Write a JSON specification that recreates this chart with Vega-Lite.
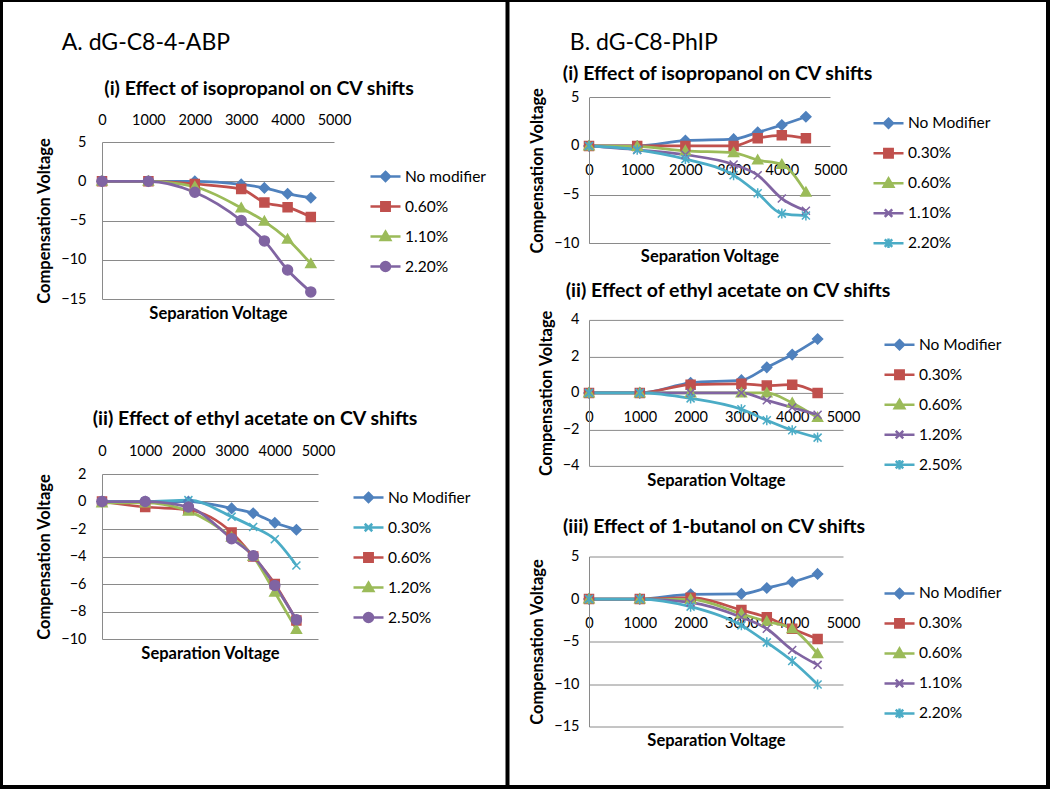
{
  "$schema": "https://vega.github.io/schema/vega-lite/v6.json",
  "background": "white",
  "padding": 0,
  "config": {
    "font": "Lato",
    "view": {"stroke": null},
    "axis": {"labelFont": "Lato", "labelFontSize": 14.5, "labelColor": "#000", "titleFont": "Lato", "titleFontSize": 16.5, "titleFontWeight": "bold", "titleColor": "#000", "gridColor": "#8a8a8a", "domainColor": "#8a8a8a", "ticks": false, "labelFlush": false, "labelOverlap": false, "format": "d"},
    "title": {"font": "Lato", "fontSize": 19.5, "fontWeight": "bold", "color": "#000", "anchor": "middle"},
    "legend": {"labelFont": "Lato", "labelFontSize": 15.5, "labelColor": "#000"}
  },
  "resolve": {"scale": {"x": "independent", "y": "independent", "color": "independent", "stroke": "independent", "shape": "independent"}},
  "spacing": 0,
  "vconcat": [
    {"width": 1050, "height": 2, "view": {"fill": "black", "stroke": null}, "data": {"values": []}, "mark": {"type": "point", "opacity": 0}, "encoding": {}},
    {
      "resolve": {"scale": {"x": "independent", "y": "independent", "color": "independent", "stroke": "independent", "shape": "independent"}},
      "spacing": 44,
      "hconcat": [
        {
          "resolve": {"scale": {"x": "independent", "y": "independent", "color": "independent", "stroke": "independent", "shape": "independent"}},
          "spacing": 33,
          "hconcat": [
            {"width": 3, "height": 783, "view": {"fill": "black", "stroke": null}, "data": {"values": []}, "mark": {"type": "point", "opacity": 0}, "encoding": {}},
            {
              "resolve": {"scale": {"x": "independent", "y": "independent", "color": "independent", "stroke": "independent", "shape": "independent"}},
              "spacing": 19.5,
              "hconcat": [
                {
                  "title": {"text": "A. dG-C8-4-ABP", "anchor": "start", "fontSize": 23, "fontWeight": "normal", "dx": 25, "offset": -53.2},
                  "resolve": {"scale": {"x": "independent", "y": "independent", "color": "independent", "stroke": "independent", "shape": "independent"}},
                  "spacing": 87,
                  "vconcat": [
                    {
                      "width": 232, "height": 297,
                      "title": {"text": "(i) Effect of isopropanol on CV shifts", "dx": 41, "offset": -97.45},
                      "data": {"values": [
                        {"series": "No modifier", "sv": 0, "cv": 0}, {"series": "No modifier", "sv": 1000, "cv": 0}, {"series": "No modifier", "sv": 2000, "cv": 0}, {"series": "No modifier", "sv": 3000, "cv": -0.4}, {"series": "No modifier", "sv": 3500, "cv": -0.85}, {"series": "No modifier", "sv": 4000, "cv": -1.6}, {"series": "No modifier", "sv": 4500, "cv": -2.1},
                        {"series": "0.60%", "sv": 0, "cv": 0}, {"series": "0.60%", "sv": 1000, "cv": 0}, {"series": "0.60%", "sv": 2000, "cv": -0.35}, {"series": "0.60%", "sv": 3000, "cv": -1.0}, {"series": "0.60%", "sv": 3500, "cv": -2.7}, {"series": "0.60%", "sv": 4000, "cv": -3.3}, {"series": "0.60%", "sv": 4500, "cv": -4.55},
                        {"series": "1.10%", "sv": 0, "cv": 0}, {"series": "1.10%", "sv": 1000, "cv": 0}, {"series": "1.10%", "sv": 2000, "cv": -0.7}, {"series": "1.10%", "sv": 3000, "cv": -3.4}, {"series": "1.10%", "sv": 3500, "cv": -5.1}, {"series": "1.10%", "sv": 4000, "cv": -7.4}, {"series": "1.10%", "sv": 4500, "cv": -10.5},
                        {"series": "2.20%", "sv": 0, "cv": 0}, {"series": "2.20%", "sv": 1000, "cv": 0}, {"series": "2.20%", "sv": 2000, "cv": -1.4}, {"series": "2.20%", "sv": 3000, "cv": -5.0}, {"series": "2.20%", "sv": 3500, "cv": -7.6}, {"series": "2.20%", "sv": 4000, "cv": -11.3}, {"series": "2.20%", "sv": 4500, "cv": -14.1}
                      ]},
                      "resolve": {"scale": {"color": "independent", "stroke": "independent", "shape": "independent"}},
                      "encoding": {
                        "x": {"field": "sv", "type": "quantitative", "scale": {"domain": [0, 5000], "nice": false}, "axis": {"orient": "top", "offset": -140, "values": [0, 1000, 2000, 3000, 4000, 5000], "grid": false, "domain": false, "labelPadding": 15, "title": "Separation Voltage", "titleY": 171, "titleBaseline": "middle"}},
                        "y": {"field": "cv", "type": "quantitative", "scale": {"domain": [-15, 5], "nice": false, "range": [297, 140]}, "axis": {"values": [-15, -10, -5, 0, 5], "grid": true, "labelPadding": 16, "title": "Compensation Voltage", "titlePadding": 8}}
                      },
                      "layer": [
                        {"mark": {"type": "line", "interpolate": "monotone", "strokeWidth": 2.75}, "encoding": {"color": {"field": "series", "type": "nominal", "scale": {"domain": ["No modifier", "0.60%", "1.10%", "2.20%"], "range": ["#4F81BD", "#C0504D", "#9BBB59", "#8064A2"]}, "legend": null}}},
                        {"mark": {"type": "point", "filled": true, "opacity": 1, "size": 100, "strokeWidth": 1.5}, "encoding": {
                          "color": {"field": "series", "type": "nominal", "scale": {"domain": ["No modifier", "0.60%", "1.10%", "2.20%"], "range": ["#4F81BD", "#C0504D", "#9BBB59", "#8064A2"]}, "legend": null},
                          "stroke": {"field": "series", "type": "nominal", "scale": {"domain": ["No modifier", "0.60%", "1.10%", "2.20%"], "range": ["#4F81BD", "#C0504D", "#9BBB59", "#8064A2"]}, "legend": null},
                          "shape": {"field": "series", "type": "nominal", "scale": {"domain": ["No modifier", "0.60%", "1.10%", "2.20%"], "range": ["M0,-1L1,0L0,1L-1,0Z", "M-0.9,-0.9H0.9V0.9H-0.9Z", "M0,-1L1,0.75H-1Z", "circle"]}, "legend": null}}},
                        {"transform": [{"filter": "datum.sv < 0"}], "mark": {"type": "point", "filled": true, "opacity": 1, "strokeWidth": 2.5}, "encoding": {
                          "color": {"field": "series", "type": "nominal", "scale": {"domain": ["No modifier", "0.60%", "1.10%", "2.20%"], "range": ["#4F81BD", "#C0504D", "#9BBB59", "#8064A2"]}, "legend": {"title": null, "orient": "none", "legendX": 267, "legendY": 158, "symbolSize": 900, "symbolStrokeWidth": 2.5, "labelOffset": 3, "rowPadding": 4, "padding": 0}},
                          "stroke": {"field": "series", "type": "nominal", "scale": {"domain": ["No modifier", "0.60%", "1.10%", "2.20%"], "range": ["#4F81BD", "#C0504D", "#9BBB59", "#8064A2"]}, "legend": {"title": null, "orient": "none", "legendX": 267, "legendY": 158, "symbolSize": 900, "symbolStrokeWidth": 2.5, "labelOffset": 3, "rowPadding": 4, "padding": 0}},
                          "shape": {"field": "series", "type": "nominal", "scale": {"domain": ["No modifier", "0.60%", "1.10%", "2.20%"], "range": ["M-1,0H1M0,-0.3L0.3,0L0,0.3L-0.3,0Z", "M-1,0H1M-0.28,-0.28H0.28V0.28H-0.28Z", "M-1,0H1M0,-0.32L0.32,0.24H-0.32Z", "M-1,0H1M0.3,0A0.3,0.3,0,1,1,-0.3,0A0.3,0.3,0,1,1,0.3,0Z"]}, "legend": {"title": null, "orient": "none", "legendX": 267, "legendY": 158, "symbolSize": 900, "symbolStrokeWidth": 2.5, "labelOffset": 3, "rowPadding": 4, "padding": 0}}}}
                      ]
                    },
                    {
                      "width": 216, "height": 165,
                      "title": {"text": "(ii) Effect of ethyl acetate  on CV shifts", "dx": 45, "offset": 13.25},
                      "data": {"values": [
                        {"series": "No Modifier", "sv": 0, "cv": 0}, {"series": "No Modifier", "sv": 1000, "cv": 0}, {"series": "No Modifier", "sv": 2000, "cv": 0}, {"series": "No Modifier", "sv": 3000, "cv": -0.5}, {"series": "No Modifier", "sv": 3500, "cv": -0.85}, {"series": "No Modifier", "sv": 4000, "cv": -1.55}, {"series": "No Modifier", "sv": 4500, "cv": -2.05},
                        {"series": "0.30%", "sv": 0, "cv": 0}, {"series": "0.30%", "sv": 1000, "cv": 0}, {"series": "0.30%", "sv": 2000, "cv": 0.1}, {"series": "0.30%", "sv": 3000, "cv": -1.1}, {"series": "0.30%", "sv": 3500, "cv": -1.85}, {"series": "0.30%", "sv": 4000, "cv": -2.75}, {"series": "0.30%", "sv": 4500, "cv": -4.65},
                        {"series": "0.60%", "sv": 0, "cv": 0}, {"series": "0.60%", "sv": 1000, "cv": -0.4}, {"series": "0.60%", "sv": 2000, "cv": -0.6}, {"series": "0.60%", "sv": 3000, "cv": -2.25}, {"series": "0.60%", "sv": 3500, "cv": -4.0}, {"series": "0.60%", "sv": 4000, "cv": -6.0}, {"series": "0.60%", "sv": 4500, "cv": -8.65},
                        {"series": "1.20%", "sv": 0, "cv": -0.1}, {"series": "1.20%", "sv": 1000, "cv": -0.1}, {"series": "1.20%", "sv": 2000, "cv": -0.7}, {"series": "1.20%", "sv": 3000, "cv": -2.6}, {"series": "1.20%", "sv": 3500, "cv": -4.0}, {"series": "1.20%", "sv": 4000, "cv": -6.6}, {"series": "1.20%", "sv": 4500, "cv": -9.3},
                        {"series": "2.50%", "sv": 0, "cv": 0}, {"series": "2.50%", "sv": 1000, "cv": 0}, {"series": "2.50%", "sv": 2000, "cv": -0.4}, {"series": "2.50%", "sv": 3000, "cv": -2.7}, {"series": "2.50%", "sv": 3500, "cv": -3.95}, {"series": "2.50%", "sv": 4000, "cv": -6.1}, {"series": "2.50%", "sv": 4500, "cv": -8.6}
                      ]},
                      "resolve": {"scale": {"color": "independent", "stroke": "independent", "shape": "independent"}},
                      "encoding": {
                        "x": {"field": "sv", "type": "quantitative", "scale": {"domain": [0, 5000], "nice": false}, "axis": {"orient": "top", "values": [0, 1000, 2000, 3000, 4000, 5000], "grid": false, "domain": false, "labelPadding": 16, "title": "Separation Voltage", "titleY": 179.5, "titleBaseline": "middle"}},
                        "y": {"field": "cv", "type": "quantitative", "scale": {"domain": [-10, 2], "nice": false}, "axis": {"values": [-10, -8, -6, -4, -2, 0, 2], "grid": true, "labelPadding": 16, "title": "Compensation Voltage", "titlePadding": 8}}
                      },
                      "layer": [
                        {"mark": {"type": "line", "interpolate": "monotone", "strokeWidth": 2.75}, "encoding": {"color": {"field": "series", "type": "nominal", "scale": {"domain": ["No Modifier", "0.30%", "0.60%", "1.20%", "2.50%"], "range": ["#4F81BD", "#4BACC6", "#C0504D", "#9BBB59", "#8064A2"]}, "legend": null}}},
                        {"mark": {"type": "point", "filled": true, "opacity": 1, "size": 100, "strokeWidth": 1.5}, "encoding": {
                          "color": {"field": "series", "type": "nominal", "scale": {"domain": ["No Modifier", "0.30%", "0.60%", "1.20%", "2.50%"], "range": ["#4F81BD", "#4BACC6", "#C0504D", "#9BBB59", "#8064A2"]}, "legend": null},
                          "stroke": {"field": "series", "type": "nominal", "scale": {"domain": ["No Modifier", "0.30%", "0.60%", "1.20%", "2.50%"], "range": ["#4F81BD", "#4BACC6", "#C0504D", "#9BBB59", "#8064A2"]}, "legend": null},
                          "shape": {"field": "series", "type": "nominal", "scale": {"domain": ["No Modifier", "0.30%", "0.60%", "1.20%", "2.50%"], "range": ["M0,-1L1,0L0,1L-1,0Z", "M-0.8,-0.8L0.8,0.8M-0.8,0.8L0.8,-0.8", "M-0.9,-0.9H0.9V0.9H-0.9Z", "M0,-1L1,0.75H-1Z", "circle"]}, "legend": null}}},
                        {"transform": [{"filter": "datum.sv < 0"}], "mark": {"type": "point", "filled": true, "opacity": 1, "strokeWidth": 2.5}, "encoding": {
                          "color": {"field": "series", "type": "nominal", "scale": {"domain": ["No Modifier", "0.30%", "0.60%", "1.20%", "2.50%"], "range": ["#4F81BD", "#4BACC6", "#C0504D", "#9BBB59", "#8064A2"]}, "legend": {"title": null, "orient": "none", "legendX": 250, "legendY": 7, "symbolSize": 900, "symbolStrokeWidth": 2.5, "labelOffset": 3, "rowPadding": 4, "padding": 0}},
                          "stroke": {"field": "series", "type": "nominal", "scale": {"domain": ["No Modifier", "0.30%", "0.60%", "1.20%", "2.50%"], "range": ["#4F81BD", "#4BACC6", "#C0504D", "#9BBB59", "#8064A2"]}, "legend": {"title": null, "orient": "none", "legendX": 250, "legendY": 7, "symbolSize": 900, "symbolStrokeWidth": 2.5, "labelOffset": 3, "rowPadding": 4, "padding": 0}},
                          "shape": {"field": "series", "type": "nominal", "scale": {"domain": ["No Modifier", "0.30%", "0.60%", "1.20%", "2.50%"], "range": ["M-1,0H1M0,-0.3L0.3,0L0,0.3L-0.3,0Z", "M-1,0H1M-0.25,-0.25L0.25,0.25M-0.25,0.25L0.25,-0.25", "M-1,0H1M-0.28,-0.28H0.28V0.28H-0.28Z", "M-1,0H1M0,-0.32L0.32,0.24H-0.32Z", "M-1,0H1M0.3,0A0.3,0.3,0,1,1,-0.3,0A0.3,0.3,0,1,1,0.3,0Z"]}, "legend": {"title": null, "orient": "none", "legendX": 250, "legendY": 7, "symbolSize": 900, "symbolStrokeWidth": 2.5, "labelOffset": 3, "rowPadding": 4, "padding": 0}}}}
                      ]
                    }
                  ]
                },
                {"width": 4, "height": 783, "view": {"fill": "black", "stroke": null}, "data": {"values": []}, "mark": {"type": "point", "opacity": 0}, "encoding": {}},
                {
                  "title": {"text": "B. dG-C8-PhIP", "anchor": "start", "fontSize": 23, "fontWeight": "normal", "dx": 40, "offset": -52.5},
                  "resolve": {"scale": {"x": "independent", "y": "independent", "color": "independent", "stroke": "independent", "shape": "independent"}},
                  "spacing": 26.5,
                  "vconcat": [
                    {
                      "resolve": {"scale": {"x": "independent", "y": "independent", "color": "independent", "stroke": "independent", "shape": "independent"}},
                      "spacing": 15.9,
                      "vconcat": [
                        {
                          "width": 241, "height": 241.3,
                          "title": {"text": "(i) Effect of isopropanol on CV shifts", "dx": 8, "offset": -82.45},
                          "data": {"values": [
                            {"series": "No Modifier", "sv": 0, "cv": 0}, {"series": "No Modifier", "sv": 1000, "cv": 0}, {"series": "No Modifier", "sv": 2000, "cv": 0.55}, {"series": "No Modifier", "sv": 3000, "cv": 0.7}, {"series": "No Modifier", "sv": 3500, "cv": 1.4}, {"series": "No Modifier", "sv": 4000, "cv": 2.15}, {"series": "No Modifier", "sv": 4500, "cv": 3.0},
                            {"series": "0.30%", "sv": 0, "cv": 0}, {"series": "0.30%", "sv": 1000, "cv": 0}, {"series": "0.30%", "sv": 2000, "cv": 0}, {"series": "0.30%", "sv": 3000, "cv": 0}, {"series": "0.30%", "sv": 3500, "cv": 0.8}, {"series": "0.30%", "sv": 4000, "cv": 1.1}, {"series": "0.30%", "sv": 4500, "cv": 0.8},
                            {"series": "0.60%", "sv": 0, "cv": 0}, {"series": "0.60%", "sv": 1000, "cv": -0.05}, {"series": "0.60%", "sv": 2000, "cv": -0.5}, {"series": "0.60%", "sv": 3000, "cv": -0.7}, {"series": "0.60%", "sv": 3500, "cv": -1.45}, {"series": "0.60%", "sv": 4000, "cv": -1.9}, {"series": "0.60%", "sv": 4500, "cv": -4.75},
                            {"series": "1.10%", "sv": 0, "cv": 0}, {"series": "1.10%", "sv": 1000, "cv": -0.4}, {"series": "1.10%", "sv": 2000, "cv": -0.9}, {"series": "1.10%", "sv": 3000, "cv": -1.9}, {"series": "1.10%", "sv": 3500, "cv": -3.0}, {"series": "1.10%", "sv": 4000, "cv": -5.4}, {"series": "1.10%", "sv": 4500, "cv": -6.65},
                            {"series": "2.20%", "sv": 0, "cv": 0}, {"series": "2.20%", "sv": 1000, "cv": -0.4}, {"series": "2.20%", "sv": 2000, "cv": -1.35}, {"series": "2.20%", "sv": 3000, "cv": -3.0}, {"series": "2.20%", "sv": 3500, "cv": -4.85}, {"series": "2.20%", "sv": 4000, "cv": -6.95}, {"series": "2.20%", "sv": 4500, "cv": -7.15}
                          ]},
                          "resolve": {"scale": {"color": "independent", "stroke": "independent", "shape": "independent"}},
                          "encoding": {
                            "x": {"field": "sv", "type": "quantitative", "scale": {"domain": [0, 5000], "nice": false}, "axis": {"orient": "bottom", "offset": -97.33, "values": [0, 1000, 2000, 3000, 4000, 5000], "grid": false, "domain": false, "labelPadding": 17.5, "title": "Separation Voltage", "titleY": 110.4, "titleBaseline": "middle"}},
                            "y": {"field": "cv", "type": "quantitative", "scale": {"domain": [-10, 5], "nice": false, "range": [241.3, 95.3]}, "axis": {"values": [-10, -5, 0, 5], "grid": true, "labelPadding": 10, "title": "Compensation Voltage", "titlePadding": 8}}
                          },
                          "layer": [
                            {"mark": {"type": "line", "interpolate": "monotone", "strokeWidth": 2.75}, "encoding": {"color": {"field": "series", "type": "nominal", "scale": {"domain": ["No Modifier", "0.30%", "0.60%", "1.10%", "2.20%"], "range": ["#4F81BD", "#C0504D", "#9BBB59", "#8064A2", "#4BACC6"]}, "legend": null}}},
                            {"mark": {"type": "point", "filled": true, "opacity": 1, "size": 100, "strokeWidth": 1.5}, "encoding": {
                              "color": {"field": "series", "type": "nominal", "scale": {"domain": ["No Modifier", "0.30%", "0.60%", "1.10%", "2.20%"], "range": ["#4F81BD", "#C0504D", "#9BBB59", "#8064A2", "#4BACC6"]}, "legend": null},
                              "stroke": {"field": "series", "type": "nominal", "scale": {"domain": ["No Modifier", "0.30%", "0.60%", "1.10%", "2.20%"], "range": ["#4F81BD", "#C0504D", "#9BBB59", "#8064A2", "#4BACC6"]}, "legend": null},
                              "shape": {"field": "series", "type": "nominal", "scale": {"domain": ["No Modifier", "0.30%", "0.60%", "1.10%", "2.20%"], "range": ["M0,-1L1,0L0,1L-1,0Z", "M-0.9,-0.9H0.9V0.9H-0.9Z", "M0,-1L1,0.75H-1Z", "M-0.8,-0.8L0.8,0.8M-0.8,0.8L0.8,-0.8", "M-0.8,-0.8L0.8,0.8M-0.8,0.8L0.8,-0.8M0,-1L0,1"]}, "legend": null}}},
                            {"transform": [{"filter": "datum.sv < 0"}], "mark": {"type": "point", "filled": true, "opacity": 1, "strokeWidth": 2.5}, "encoding": {
                              "color": {"field": "series", "type": "nominal", "scale": {"domain": ["No Modifier", "0.30%", "0.60%", "1.10%", "2.20%"], "range": ["#4F81BD", "#C0504D", "#9BBB59", "#8064A2", "#4BACC6"]}, "legend": {"title": null, "orient": "none", "legendX": 283, "legendY": 104.7, "symbolSize": 900, "symbolStrokeWidth": 2.5, "labelOffset": 3, "rowPadding": 4, "padding": 0}},
                              "stroke": {"field": "series", "type": "nominal", "scale": {"domain": ["No Modifier", "0.30%", "0.60%", "1.10%", "2.20%"], "range": ["#4F81BD", "#C0504D", "#9BBB59", "#8064A2", "#4BACC6"]}, "legend": {"title": null, "orient": "none", "legendX": 283, "legendY": 104.7, "symbolSize": 900, "symbolStrokeWidth": 2.5, "labelOffset": 3, "rowPadding": 4, "padding": 0}},
                              "shape": {"field": "series", "type": "nominal", "scale": {"domain": ["No Modifier", "0.30%", "0.60%", "1.10%", "2.20%"], "range": ["M-1,0H1M0,-0.3L0.3,0L0,0.3L-0.3,0Z", "M-1,0H1M-0.28,-0.28H0.28V0.28H-0.28Z", "M-1,0H1M0,-0.32L0.32,0.24H-0.32Z", "M-1,0H1M-0.25,-0.25L0.25,0.25M-0.25,0.25L0.25,-0.25", "M-1,0H1M-0.25,-0.25L0.25,0.25M-0.25,0.25L0.25,-0.25M0,-0.32V0.32"]}, "legend": {"title": null, "orient": "none", "legendX": 283, "legendY": 104.7, "symbolSize": 900, "symbolStrokeWidth": 2.5, "labelOffset": 3, "rowPadding": 4, "padding": 0}}}}
                          ]
                        },
                        {
                          "width": 254, "height": 146,
                          "title": {"text": "(ii) Effect of ethyl acetate  on CV shifts", "dx": 12, "offset": 8},
                          "data": {"values": [
                            {"series": "No Modifier", "sv": 0, "cv": 0}, {"series": "No Modifier", "sv": 1000, "cv": 0}, {"series": "No Modifier", "sv": 2000, "cv": 0.55}, {"series": "No Modifier", "sv": 3000, "cv": 0.7}, {"series": "No Modifier", "sv": 3500, "cv": 1.4}, {"series": "No Modifier", "sv": 4000, "cv": 2.1}, {"series": "No Modifier", "sv": 4500, "cv": 2.95},
                            {"series": "0.30%", "sv": 0, "cv": 0}, {"series": "0.30%", "sv": 1000, "cv": 0}, {"series": "0.30%", "sv": 2000, "cv": 0.45}, {"series": "0.30%", "sv": 3000, "cv": 0.5}, {"series": "0.30%", "sv": 3500, "cv": 0.4}, {"series": "0.30%", "sv": 4000, "cv": 0.45}, {"series": "0.30%", "sv": 4500, "cv": 0},
                            {"series": "0.60%", "sv": 0, "cv": 0}, {"series": "0.60%", "sv": 1000, "cv": 0}, {"series": "0.60%", "sv": 2000, "cv": 0}, {"series": "0.60%", "sv": 3000, "cv": 0}, {"series": "0.60%", "sv": 3500, "cv": 0}, {"series": "0.60%", "sv": 4000, "cv": -0.55}, {"series": "0.60%", "sv": 4500, "cv": -1.35},
                            {"series": "1.20%", "sv": 0, "cv": 0}, {"series": "1.20%", "sv": 1000, "cv": 0}, {"series": "1.20%", "sv": 2000, "cv": 0}, {"series": "1.20%", "sv": 3000, "cv": 0}, {"series": "1.20%", "sv": 3500, "cv": -0.4}, {"series": "1.20%", "sv": 4000, "cv": -0.8}, {"series": "1.20%", "sv": 4500, "cv": -1.2},
                            {"series": "2.50%", "sv": 0, "cv": 0}, {"series": "2.50%", "sv": 1000, "cv": 0}, {"series": "2.50%", "sv": 2000, "cv": -0.3}, {"series": "2.50%", "sv": 3000, "cv": -0.9}, {"series": "2.50%", "sv": 3500, "cv": -1.5}, {"series": "2.50%", "sv": 4000, "cv": -2.05}, {"series": "2.50%", "sv": 4500, "cv": -2.45}
                          ]},
                          "resolve": {"scale": {"color": "independent", "stroke": "independent", "shape": "independent"}},
                          "encoding": {
                            "x": {"field": "sv", "type": "quantitative", "scale": {"domain": [0, 5000], "nice": false}, "axis": {"orient": "bottom", "offset": -73, "values": [0, 1000, 2000, 3000, 4000, 5000], "grid": false, "domain": false, "labelPadding": 17.5, "title": "Separation Voltage", "titleY": 88, "titleBaseline": "middle"}},
                            "y": {"field": "cv", "type": "quantitative", "scale": {"domain": [-4, 4], "nice": false}, "axis": {"values": [-4, -2, 0, 2, 4], "grid": true, "labelPadding": 10, "title": "Compensation Voltage", "titlePadding": 8}}
                          },
                          "layer": [
                            {"mark": {"type": "line", "interpolate": "monotone", "strokeWidth": 2.75}, "encoding": {"color": {"field": "series", "type": "nominal", "scale": {"domain": ["No Modifier", "0.30%", "0.60%", "1.20%", "2.50%"], "range": ["#4F81BD", "#C0504D", "#9BBB59", "#8064A2", "#4BACC6"]}, "legend": null}}},
                            {"mark": {"type": "point", "filled": true, "opacity": 1, "size": 100, "strokeWidth": 1.5}, "encoding": {
                              "color": {"field": "series", "type": "nominal", "scale": {"domain": ["No Modifier", "0.30%", "0.60%", "1.20%", "2.50%"], "range": ["#4F81BD", "#C0504D", "#9BBB59", "#8064A2", "#4BACC6"]}, "legend": null},
                              "stroke": {"field": "series", "type": "nominal", "scale": {"domain": ["No Modifier", "0.30%", "0.60%", "1.20%", "2.50%"], "range": ["#4F81BD", "#C0504D", "#9BBB59", "#8064A2", "#4BACC6"]}, "legend": null},
                              "shape": {"field": "series", "type": "nominal", "scale": {"domain": ["No Modifier", "0.30%", "0.60%", "1.20%", "2.50%"], "range": ["M0,-1L1,0L0,1L-1,0Z", "M-0.9,-0.9H0.9V0.9H-0.9Z", "M0,-1L1,0.75H-1Z", "M-0.8,-0.8L0.8,0.8M-0.8,0.8L0.8,-0.8", "M-0.8,-0.8L0.8,0.8M-0.8,0.8L0.8,-0.8M0,-1L0,1"]}, "legend": null}}},
                            {"transform": [{"filter": "datum.sv < 0"}], "mark": {"type": "point", "filled": true, "opacity": 1, "strokeWidth": 2.5}, "encoding": {
                              "color": {"field": "series", "type": "nominal", "scale": {"domain": ["No Modifier", "0.30%", "0.60%", "1.20%", "2.50%"], "range": ["#4F81BD", "#C0504D", "#9BBB59", "#8064A2", "#4BACC6"]}, "legend": {"title": null, "orient": "none", "legendX": 294, "legendY": 8.3, "symbolSize": 900, "symbolStrokeWidth": 2.5, "labelOffset": 3, "rowPadding": 4, "padding": 0}},
                              "stroke": {"field": "series", "type": "nominal", "scale": {"domain": ["No Modifier", "0.30%", "0.60%", "1.20%", "2.50%"], "range": ["#4F81BD", "#C0504D", "#9BBB59", "#8064A2", "#4BACC6"]}, "legend": {"title": null, "orient": "none", "legendX": 294, "legendY": 8.3, "symbolSize": 900, "symbolStrokeWidth": 2.5, "labelOffset": 3, "rowPadding": 4, "padding": 0}},
                              "shape": {"field": "series", "type": "nominal", "scale": {"domain": ["No Modifier", "0.30%", "0.60%", "1.20%", "2.50%"], "range": ["M-1,0H1M0,-0.3L0.3,0L0,0.3L-0.3,0Z", "M-1,0H1M-0.28,-0.28H0.28V0.28H-0.28Z", "M-1,0H1M0,-0.32L0.32,0.24H-0.32Z", "M-1,0H1M-0.25,-0.25L0.25,0.25M-0.25,0.25L0.25,-0.25", "M-1,0H1M-0.25,-0.25L0.25,0.25M-0.25,0.25L0.25,-0.25M0,-0.32V0.32"]}, "legend": {"title": null, "orient": "none", "legendX": 294, "legendY": 8.3, "symbolSize": 900, "symbolStrokeWidth": 2.5, "labelOffset": 3, "rowPadding": 4, "padding": 0}}}}
                          ]
                        }
                      ]
                    },
                    {
                      "width": 254, "height": 170,
                      "title": {"text": "(iii) Effect of 1-butanol on CV shifts", "dx": -2, "offset": 10.9},
                      "data": {"values": [
                        {"series": "No Modifier", "sv": 0, "cv": 0}, {"series": "No Modifier", "sv": 1000, "cv": 0}, {"series": "No Modifier", "sv": 2000, "cv": 0.55}, {"series": "No Modifier", "sv": 3000, "cv": 0.6}, {"series": "No Modifier", "sv": 3500, "cv": 1.3}, {"series": "No Modifier", "sv": 4000, "cv": 2.0}, {"series": "No Modifier", "sv": 4500, "cv": 2.95},
                        {"series": "0.30%", "sv": 0, "cv": 0}, {"series": "0.30%", "sv": 1000, "cv": 0}, {"series": "0.30%", "sv": 2000, "cv": 0.15}, {"series": "0.30%", "sv": 3000, "cv": -1.3}, {"series": "0.30%", "sv": 3500, "cv": -2.15}, {"series": "0.30%", "sv": 4000, "cv": -3.5}, {"series": "0.30%", "sv": 4500, "cv": -4.7},
                        {"series": "0.60%", "sv": 0, "cv": 0}, {"series": "0.60%", "sv": 1000, "cv": 0}, {"series": "0.60%", "sv": 2000, "cv": -0.05}, {"series": "0.60%", "sv": 3000, "cv": -1.75}, {"series": "0.60%", "sv": 3500, "cv": -2.65}, {"series": "0.60%", "sv": 4000, "cv": -3.5}, {"series": "0.60%", "sv": 4500, "cv": -6.45},
                        {"series": "1.10%", "sv": 0, "cv": 0}, {"series": "1.10%", "sv": 1000, "cv": 0}, {"series": "1.10%", "sv": 2000, "cv": -0.4}, {"series": "1.10%", "sv": 3000, "cv": -2.15}, {"series": "1.10%", "sv": 3500, "cv": -3.5}, {"series": "1.10%", "sv": 4000, "cv": -6.0}, {"series": "1.10%", "sv": 4500, "cv": -7.75},
                        {"series": "2.20%", "sv": 0, "cv": 0}, {"series": "2.20%", "sv": 1000, "cv": 0}, {"series": "2.20%", "sv": 2000, "cv": -0.9}, {"series": "2.20%", "sv": 3000, "cv": -3.1}, {"series": "2.20%", "sv": 3500, "cv": -5.1}, {"series": "2.20%", "sv": 4000, "cv": -7.3}, {"series": "2.20%", "sv": 4500, "cv": -10.05}
                      ]},
                      "resolve": {"scale": {"color": "independent", "stroke": "independent", "shape": "independent"}},
                      "encoding": {
                        "x": {"field": "sv", "type": "quantitative", "scale": {"domain": [0, 5000], "nice": false}, "axis": {"orient": "bottom", "offset": -127.5, "values": [0, 1000, 2000, 3000, 4000, 5000], "grid": false, "domain": false, "labelPadding": 17.5, "title": "Separation Voltage", "titleY": 141, "titleBaseline": "middle"}},
                        "y": {"field": "cv", "type": "quantitative", "scale": {"domain": [-15, 5], "nice": false}, "axis": {"values": [-15, -10, -5, 0, 5], "grid": true, "labelPadding": 10, "title": "Compensation Voltage", "titlePadding": 8}}
                      },
                      "layer": [
                        {"mark": {"type": "line", "interpolate": "monotone", "strokeWidth": 2.75}, "encoding": {"color": {"field": "series", "type": "nominal", "scale": {"domain": ["No Modifier", "0.30%", "0.60%", "1.10%", "2.20%"], "range": ["#4F81BD", "#C0504D", "#9BBB59", "#8064A2", "#4BACC6"]}, "legend": null}}},
                        {"mark": {"type": "point", "filled": true, "opacity": 1, "size": 100, "strokeWidth": 1.5}, "encoding": {
                          "color": {"field": "series", "type": "nominal", "scale": {"domain": ["No Modifier", "0.30%", "0.60%", "1.10%", "2.20%"], "range": ["#4F81BD", "#C0504D", "#9BBB59", "#8064A2", "#4BACC6"]}, "legend": null},
                          "stroke": {"field": "series", "type": "nominal", "scale": {"domain": ["No Modifier", "0.30%", "0.60%", "1.10%", "2.20%"], "range": ["#4F81BD", "#C0504D", "#9BBB59", "#8064A2", "#4BACC6"]}, "legend": null},
                          "shape": {"field": "series", "type": "nominal", "scale": {"domain": ["No Modifier", "0.30%", "0.60%", "1.10%", "2.20%"], "range": ["M0,-1L1,0L0,1L-1,0Z", "M-0.9,-0.9H0.9V0.9H-0.9Z", "M0,-1L1,0.75H-1Z", "M-0.8,-0.8L0.8,0.8M-0.8,0.8L0.8,-0.8", "M-0.8,-0.8L0.8,0.8M-0.8,0.8L0.8,-0.8M0,-1L0,1"]}, "legend": null}}},
                        {"transform": [{"filter": "datum.sv < 0"}], "mark": {"type": "point", "filled": true, "opacity": 1, "strokeWidth": 2.5}, "encoding": {
                          "color": {"field": "series", "type": "nominal", "scale": {"domain": ["No Modifier", "0.30%", "0.60%", "1.10%", "2.20%"], "range": ["#4F81BD", "#C0504D", "#9BBB59", "#8064A2", "#4BACC6"]}, "legend": {"title": null, "orient": "none", "legendX": 294, "legendY": 20.4, "symbolSize": 900, "symbolStrokeWidth": 2.5, "labelOffset": 3, "rowPadding": 4, "padding": 0}},
                          "stroke": {"field": "series", "type": "nominal", "scale": {"domain": ["No Modifier", "0.30%", "0.60%", "1.10%", "2.20%"], "range": ["#4F81BD", "#C0504D", "#9BBB59", "#8064A2", "#4BACC6"]}, "legend": {"title": null, "orient": "none", "legendX": 294, "legendY": 20.4, "symbolSize": 900, "symbolStrokeWidth": 2.5, "labelOffset": 3, "rowPadding": 4, "padding": 0}},
                          "shape": {"field": "series", "type": "nominal", "scale": {"domain": ["No Modifier", "0.30%", "0.60%", "1.10%", "2.20%"], "range": ["M-1,0H1M0,-0.3L0.3,0L0,0.3L-0.3,0Z", "M-1,0H1M-0.28,-0.28H0.28V0.28H-0.28Z", "M-1,0H1M0,-0.32L0.32,0.24H-0.32Z", "M-1,0H1M-0.25,-0.25L0.25,0.25M-0.25,0.25L0.25,-0.25", "M-1,0H1M-0.25,-0.25L0.25,0.25M-0.25,0.25L0.25,-0.25M0,-0.32V0.32"]}, "legend": {"title": null, "orient": "none", "legendX": 294, "legendY": 20.4, "symbolSize": 900, "symbolStrokeWidth": 2.5, "labelOffset": 3, "rowPadding": 4, "padding": 0}}}}
                      ]
                    }
                  ]
                }
              ]
            }
          ]
        },
        {"width": 4, "height": 783, "view": {"fill": "black", "stroke": null}, "data": {"values": []}, "mark": {"type": "point", "opacity": 0}, "encoding": {}}
      ]
    },
    {"width": 1050, "height": 4, "view": {"fill": "black", "stroke": null}, "data": {"values": []}, "mark": {"type": "point", "opacity": 0}, "encoding": {}}
  ]
}
